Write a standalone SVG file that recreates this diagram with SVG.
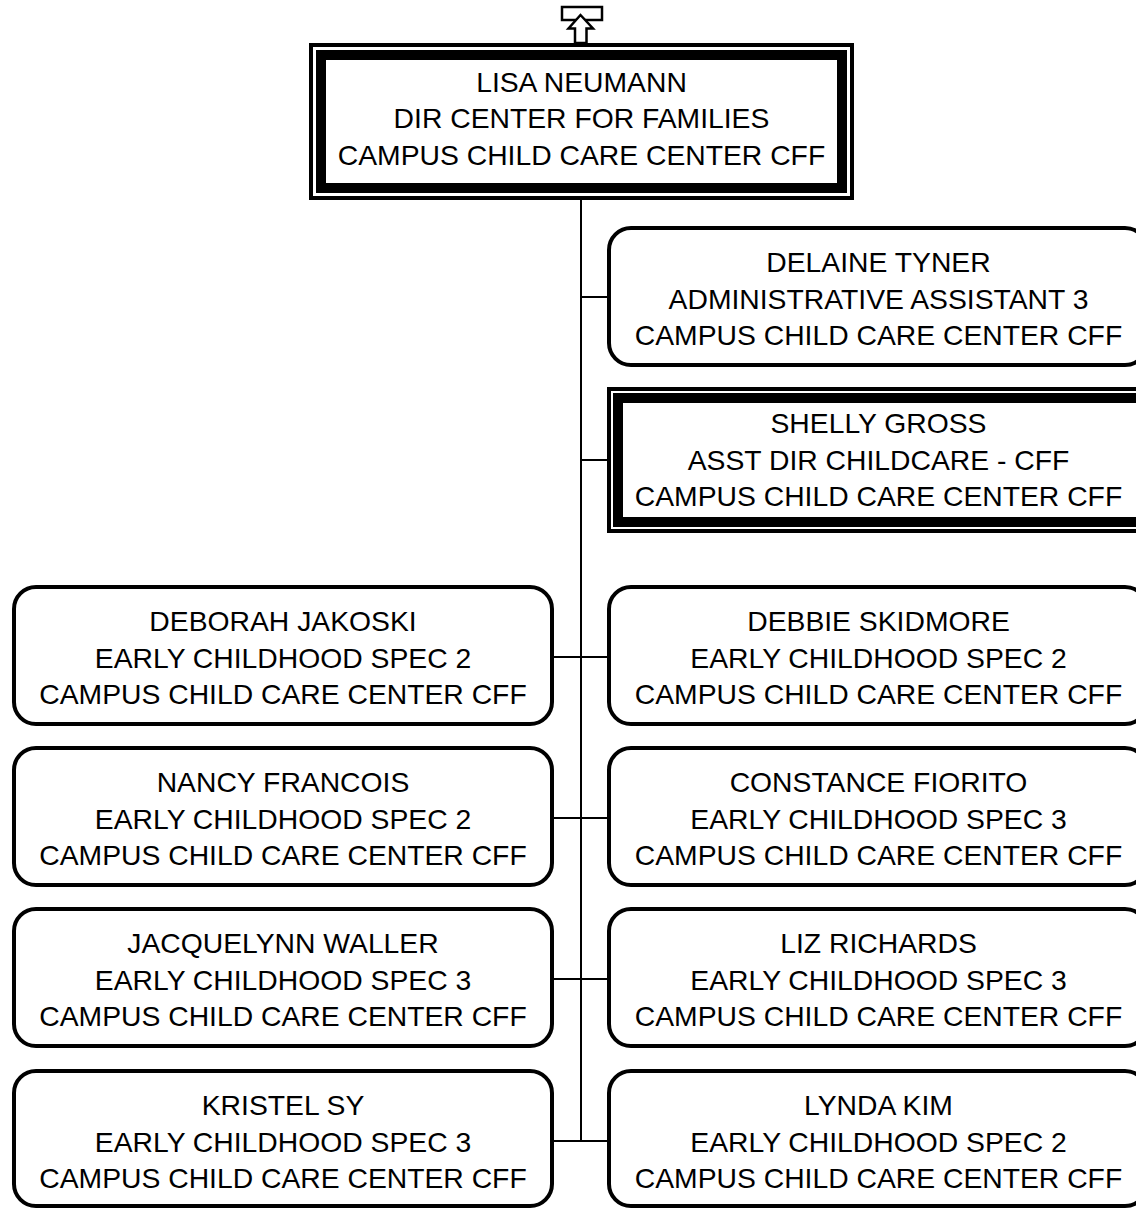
<svg xmlns="http://www.w3.org/2000/svg" width="1136" height="1209" viewBox="0 0 1136 1209">
<style>
  text { font-family: "Liberation Sans", Arial, sans-serif; font-size: 28.3px; fill: #000; text-anchor: middle; }
  .rbox { fill: #fff; stroke: #000; stroke-width: 4; }
  .outer { fill: #fff; stroke: #000; stroke-width: 4; }
  .inner { fill: none; stroke: #000; stroke-width: 10; }
  .conn { fill: none; stroke: #000; stroke-width: 2; }
</style>
<rect width="1136" height="1209" fill="#fff"/>
<g id="connectors">
  <line class="conn" x1="581" y1="200" x2="581" y2="1141"/>
  <line class="conn" x1="581" y1="297" x2="609" y2="297"/>
  <line class="conn" x1="581" y1="460" x2="609" y2="460"/>
  <line class="conn" x1="552" y1="657" x2="609" y2="657"/>
  <line class="conn" x1="552" y1="818" x2="609" y2="818"/>
  <line class="conn" x1="552" y1="979" x2="609" y2="979"/>
  <line class="conn" x1="552" y1="1141" x2="609" y2="1141"/>
</g>
<g id="up-arrow">
  <rect x="562" y="7" width="40" height="13" fill="#fff" stroke="#000" stroke-width="2.5"/>
  <polygon points="580.5,15 568.5,28.5 575,28.5 575,43 586.5,43 586.5,28.5 593,28.5" fill="#fff" stroke="#000" stroke-width="2.5" stroke-linejoin="miter"/>
</g>
<g id="lisa-neumann">
  <rect class="outer" x="311" y="45" width="541" height="153"/>
  <rect class="inner" x="321" y="55" width="521" height="133"/>
  <text x="581.5" y="91.5">LISA NEUMANN</text>
  <text x="581.5" y="128">DIR CENTER FOR FAMILIES</text>
  <text x="581.5" y="164.5">CAMPUS CHILD CARE CENTER CFF</text>
</g>
<g id="delaine-tyner">
  <rect class="rbox" x="609" y="228" width="538" height="137" rx="22"/>
  <text x="878.5" y="272">DELAINE TYNER</text>
  <text x="878.5" y="308.5">ADMINISTRATIVE ASSISTANT 3</text>
  <text x="878.5" y="345">CAMPUS CHILD CARE CENTER CFF</text>
</g>
<g id="shelly-gross">
  <rect class="outer" x="609" y="389" width="540" height="142"/>
  <rect class="inner" x="618" y="398" width="530" height="124"/>
  <text x="878.5" y="433">SHELLY GROSS</text>
  <text x="878.5" y="469.5">ASST DIR CHILDCARE - CFF</text>
  <text x="878.5" y="506">CAMPUS CHILD CARE CENTER CFF</text>
</g>
<g id="deborah-jakoski">
  <rect class="rbox" x="14" y="587" width="538" height="137" rx="22"/>
  <text x="283" y="631">DEBORAH JAKOSKI</text>
  <text x="283" y="667.5">EARLY CHILDHOOD SPEC 2</text>
  <text x="283" y="704">CAMPUS CHILD CARE CENTER CFF</text>
</g>
<g id="debbie-skidmore">
  <rect class="rbox" x="609" y="587" width="538" height="137" rx="22"/>
  <text x="878.5" y="631">DEBBIE SKIDMORE</text>
  <text x="878.5" y="667.5">EARLY CHILDHOOD SPEC 2</text>
  <text x="878.5" y="704">CAMPUS CHILD CARE CENTER CFF</text>
</g>
<g id="nancy-francois">
  <rect class="rbox" x="14" y="748" width="538" height="137" rx="22"/>
  <text x="283" y="792">NANCY FRANCOIS</text>
  <text x="283" y="828.5">EARLY CHILDHOOD SPEC 2</text>
  <text x="283" y="865">CAMPUS CHILD CARE CENTER CFF</text>
</g>
<g id="constance-fiorito">
  <rect class="rbox" x="609" y="748" width="538" height="137" rx="22"/>
  <text x="878.5" y="792">CONSTANCE FIORITO</text>
  <text x="878.5" y="828.5">EARLY CHILDHOOD SPEC 3</text>
  <text x="878.5" y="865">CAMPUS CHILD CARE CENTER CFF</text>
</g>
<g id="jacquelynn-waller">
  <rect class="rbox" x="14" y="909" width="538" height="137" rx="22"/>
  <text x="283" y="953">JACQUELYNN WALLER</text>
  <text x="283" y="989.5">EARLY CHILDHOOD SPEC 3</text>
  <text x="283" y="1026">CAMPUS CHILD CARE CENTER CFF</text>
</g>
<g id="liz-richards">
  <rect class="rbox" x="609" y="909" width="538" height="137" rx="22"/>
  <text x="878.5" y="953">LIZ RICHARDS</text>
  <text x="878.5" y="989.5">EARLY CHILDHOOD SPEC 3</text>
  <text x="878.5" y="1026">CAMPUS CHILD CARE CENTER CFF</text>
</g>
<g id="kristel-sy">
  <rect class="rbox" x="14" y="1071" width="538" height="135" rx="22"/>
  <text x="283" y="1115">KRISTEL SY</text>
  <text x="283" y="1151.5">EARLY CHILDHOOD SPEC 3</text>
  <text x="283" y="1188">CAMPUS CHILD CARE CENTER CFF</text>
</g>
<g id="lynda-kim">
  <rect class="rbox" x="609" y="1071" width="538" height="135" rx="22"/>
  <text x="878.5" y="1115">LYNDA KIM</text>
  <text x="878.5" y="1151.5">EARLY CHILDHOOD SPEC 2</text>
  <text x="878.5" y="1188">CAMPUS CHILD CARE CENTER CFF</text>
</g>
</svg>
